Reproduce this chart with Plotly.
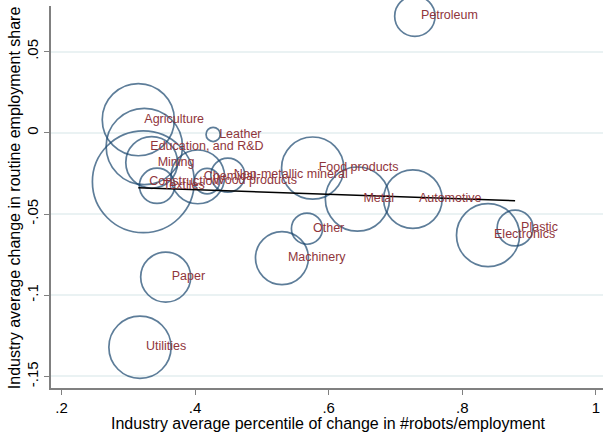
import plotly.graph_objects as go

industries = ["Petroleum", "Agriculture", "Leather", "Education, and R&D", "Mining",
              "Construction", "Textiles", "Chemical", "Wood products", "Non-metallic mineral",
              "Food products", "Metal", "Automotive", "Plastic", "Electronics",
              "Other", "Machinery", "Paper", "Utilities"]
robot_pct = [0.729, 0.315, 0.427, 0.324, 0.335,
             0.3225, 0.343, 0.404, 0.418, 0.449,
             0.576, 0.643, 0.726, 0.879, 0.8385,
             0.5675, 0.530, 0.356, 0.3175]
routine_chg = [0.0718, 0.0081, -0.0010, -0.0084, -0.0182,
               -0.0301, -0.0326, -0.0271, -0.0297, -0.0260,
               -0.0217, -0.0408, -0.0408, -0.0586, -0.0630,
               -0.0590, -0.0771, -0.0888, -0.1320]
emp_weight = [20.4, 65.0, 2.5, 72.9, 33.5,
              129.6, 15.6, 36.1, 8.1, 14.4,
              48.4, 51.5, 42.8, 16.1, 49.7,
              12.1, 35.0, 31.3, 48.4]
fit_x = [0.315, 0.879]
fit_y = [-0.0338, -0.0418]

x_ticks = [0.2, 0.4, 0.6, 0.8, 1.0]
x_ticktext = [".2", ".4", ".6", ".8", "1"]
y_ticks = [-0.15, -0.1, -0.05, 0.0, 0.05]
y_ticktext = ["-.15", "-.1", "-.05", "0", ".05"]
x_title = "Industry average percentile of change in #robots/employment"
y_title = "Industry average change in routine employment share"

NAVY = "#1A476F"
MAROON = "#90353B"
FONT = "Liberation Sans, Arial, sans-serif"

fig = go.Figure()
fig.add_trace(go.Scatter(
    x=robot_pct, y=routine_chg, mode="markers",
    marker=dict(size=emp_weight, sizemode="area", sizeref=0.025,
                color="rgba(0,0,0,0)", line=dict(color=NAVY, width=1.7)),
    hoverinfo="skip", showlegend=False, cliponaxis=False))
fig.add_trace(go.Scatter(
    x=fit_x, y=fit_y, mode="lines",
    line=dict(color="black", width=1.6), showlegend=False))
fig.add_trace(go.Scatter(
    x=robot_pct, y=routine_chg, mode="text+markers", text=industries,
    textposition="middle right",
    marker=dict(size=8, color="rgba(0,0,0,0)"),
    textfont=dict(family=FONT, size=12.5, color=MAROON),
    showlegend=False, cliponaxis=False))

fig.update_layout(
    width=603, height=435,
    margin=dict(l=51, r=0, t=6, b=47, autoexpand=False),
    paper_bgcolor="white", plot_bgcolor="white",
    font=dict(family=FONT, color="black"),
    xaxis=dict(range=[0.1843, 1.0106], tickvals=x_ticks, ticktext=x_ticktext,
               showgrid=False, zeroline=False, showline=True, linecolor="#808080",
               linewidth=1.5, ticks="outside", ticklen=5, tickcolor="#808080",
               tickfont=dict(size=15), automargin=False),
    yaxis=dict(range=[-0.1571, 0.0781], tickvals=y_ticks, ticktext=y_ticktext,
               tickangle=-90,
               showgrid=True, gridcolor="#EAF2F3", gridwidth=1.5,
               zeroline=False, showline=True, linecolor="#808080",
               linewidth=1.5, ticks="outside", ticklen=5, tickcolor="#808080",
               tickfont=dict(size=15), automargin=False),
    annotations=[
        dict(text=x_title, xref="paper", yref="paper", x=0.5027, y=0,
             xanchor="center", yanchor="middle", yshift=-35, showarrow=False,
             font=dict(size=16, family=FONT, color="black")),
        dict(text=y_title, xref="paper", yref="paper", x=0, y=0.497,
             xanchor="center", yanchor="middle", xshift=-37, textangle=-90,
             showarrow=False, font=dict(size=16, family=FONT, color="black")),
    ],
)

fig.write_html("out.html", config={"displayModeBar": False},
               post_script="document.body.style.margin='0px';document.body.style.overflow='hidden';")
